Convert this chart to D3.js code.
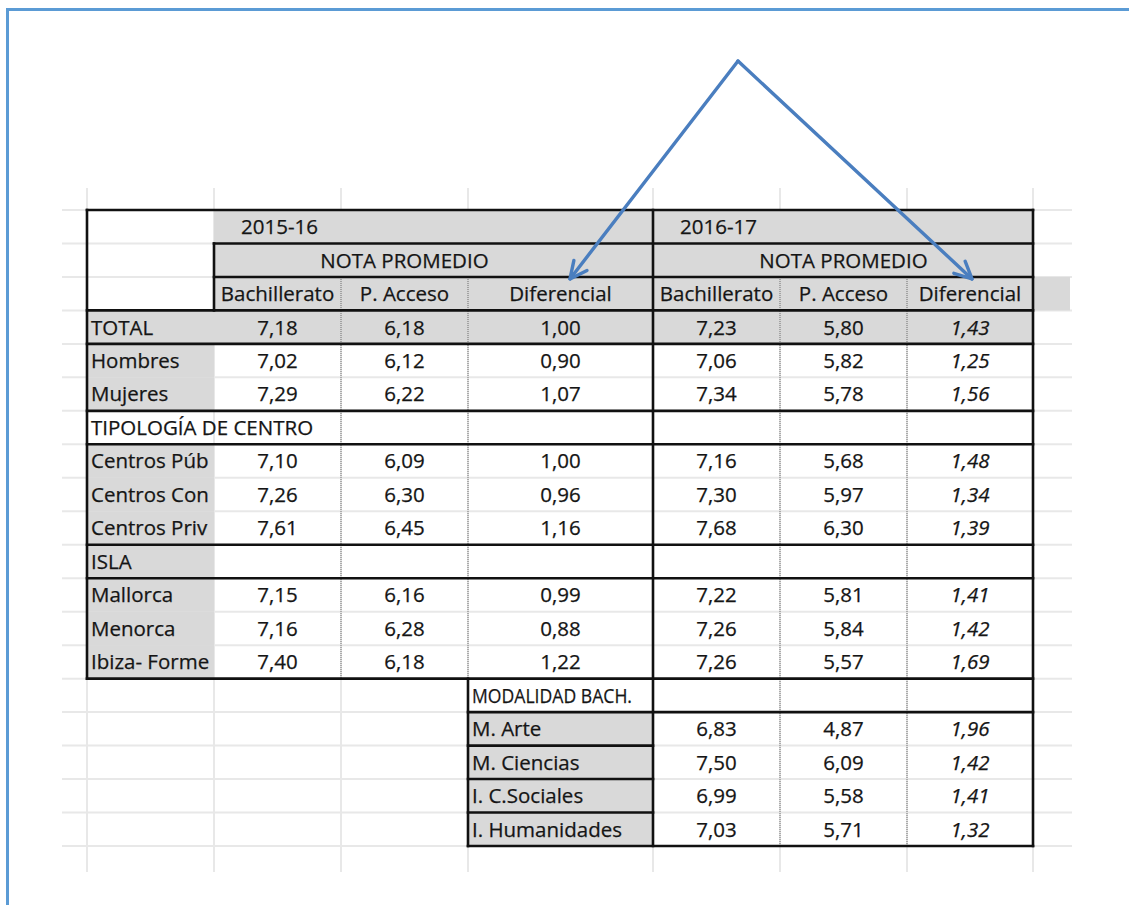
<!DOCTYPE html>
<html>
<head>
<meta charset="utf-8">
<script src="https://cdn.jsdelivr.net/npm/d3@7"></script>
<style>
  body { margin: 0; background: #fff; }
  svg text { font-family: 'Open Sans', Lato, sans-serif; font-size: 20.5px; fill: #151515; stroke: #151515; stroke-width: 0.25px; }
</style>
</head>
<body>
<div id="chart"></div>
<script>
const years = ['2015-16', '2016-17']
const groupLabel = 'NOTA PROMEDIO'
const columnHeaders = ['Bachillerato', 'P. Acceso', 'Diferencial']

// first block: both courses
const rowLabels = ['TOTAL', 'Hombres', 'Mujeres', 'TIPOLOGÍA DE CENTRO', 'Centros Públicos',
  'Centros Concertados', 'Centros Privados', 'ISLA', 'Mallorca', 'Menorca', 'Ibiza- Formentera']
const bach1516 = [7.18, 7.02, 7.29, null, 7.10, 7.26, 7.61, null, 7.15, 7.16, 7.40]
const acceso1516 = [6.18, 6.12, 6.22, null, 6.09, 6.30, 6.45, null, 6.16, 6.28, 6.18]
const dif1516 = [1.00, 0.90, 1.07, null, 1.00, 0.96, 1.16, null, 0.99, 0.88, 1.22]
const bach1617 = [7.23, 7.06, 7.34, null, 7.16, 7.30, 7.68, null, 7.22, 7.26, 7.26]
const acceso1617 = [5.80, 5.82, 5.78, null, 5.68, 5.97, 6.30, null, 5.81, 5.84, 5.57]
const dif1617 = [1.43, 1.25, 1.56, null, 1.48, 1.34, 1.39, null, 1.41, 1.42, 1.69]

// second block: only 2016-17
const modalidadTitle = 'MODALIDAD BACH.'
const modalidades = ['M. Arte', 'M. Ciencias', 'I. C.Sociales', 'I. Humanidades']
const bachMod = [6.83, 7.50, 6.99, 7.03]
const accesoMod = [4.87, 6.09, 5.58, 5.71]
const difMod = [1.96, 1.42, 1.41, 1.32]

const W = 1129, H = 905
const COL_W = [127, 127, 127, 185, 127, 127, 126]
const GRAY = '#d9d9d9'
const INK = '#111'
const BLUE = '#4a7ebf'

const fmt = d3.formatLocale({ decimal: ',', thousands: '.', grouping: [3], currency: ['', '€'] }).format('.2f')

const svg = d3.select('#chart').append('svg').attr('width', W).attr('height', H)

const edges = [0, ...d3.cumsum(COL_W)]
const x = d3.scaleLinear().domain([0, d3.sum(COL_W)]).range([87, 1033])
const nRows = 3 + rowLabels.length + 1 + modalidades.length
const y = d3.scaleBand().domain(d3.range(nRows)).range([210, 846])
const cx = i => x(edges[i])
const cw = i => x(edges[i + 1]) - x(edges[i])
const ry = r => (r >= nRows ? y.range()[1] : y(r))
const rh = y.bandwidth()

const firstRow = 3
const modRow = firstRow + rowLabels.length
const sectionRows = rowLabels.map((d, i) => (bach1516[i] === null ? i + firstRow : null)).filter(d => d !== null)

// faint spreadsheet grid behind
const grid = svg.append('g').attr('stroke', '#e8e8e8').attr('stroke-width', 2)
grid.selectAll('.h').data(d3.range(nRows + 1)).join('line')
  .attr('x1', 62).attr('x2', 1072).attr('y1', d => ry(d)).attr('y2', d => ry(d))
grid.selectAll('.v').data(d3.range(edges.length)).join('line')
  .attr('x1', d => cx(d)).attr('x2', d => cx(d)).attr('y1', 188).attr('y2', 872)

// fills
const fills = [
  [cx(1), ry(0), cx(7), ry(3)],
  [cx(7), ry(2), 1070, ry(3)],
  [cx(0), ry(3), cx(7), ry(4)],
]
d3.range(firstRow + 1, modRow).filter(r => !sectionRows.includes(r) || rowLabels[r - firstRow] === 'ISLA')
  .forEach(r => fills.push([cx(0), ry(r), cx(1), ry(r + 1)]))
modalidades.forEach((d, i) => fills.push([cx(3), ry(modRow + 1 + i), cx(4), ry(modRow + 2 + i)]))

svg.append('g').selectAll('rect').data(fills).join('rect')
  .attr('x', d => d[0]).attr('y', d => d[1])
  .attr('width', d => d[2] - d[0]).attr('height', d => d[3] - d[1])
  .attr('fill', GRAY)

// dotted inner separators
const dotted = [
  [cx(2), ry(2), cx(2), ry(modRow)],
  [cx(3), ry(2), cx(3), ry(modRow)],
  [cx(5), ry(2), cx(5), ry(nRows)],
  [cx(6), ry(2), cx(6), ry(nRows)],
]
svg.append('g').selectAll('line').data(dotted).join('line')
  .attr('x1', d => d[0]).attr('y1', d => d[1]).attr('x2', d => d[2]).attr('y2', d => d[3])
  .attr('stroke', '#666').attr('stroke-width', 1).attr('stroke-dasharray', '1,1')

// thick borders
const thick = [
  [cx(0), ry(0), cx(7), ry(0)],
  [cx(1), ry(1), cx(7), ry(1)],
  [cx(1), ry(2), cx(7), ry(2)],
  [cx(0), ry(3), cx(7), ry(3)],
  [cx(0), ry(4), cx(7), ry(4)],
  ...sectionRows.flatMap(r => [[cx(0), ry(r), cx(7), ry(r)], [cx(0), ry(r + 1), cx(7), ry(r + 1)]]),
  [cx(0), ry(modRow), cx(7), ry(modRow)],
  [cx(3), ry(modRow + 1), cx(7), ry(modRow + 1)],
  ...d3.range(modRow + 2, nRows).map(r => [cx(3), ry(r), cx(4), ry(r)]),
  [cx(3), ry(nRows), cx(7), ry(nRows)],
  [cx(0), ry(0), cx(0), ry(modRow)],
  [cx(1), ry(1), cx(1), ry(3)],
  [cx(4), ry(0), cx(4), ry(nRows)],
  [cx(7), ry(0), cx(7), ry(nRows)],
  [cx(3), ry(modRow), cx(3), ry(nRows)],
]
svg.append('g').selectAll('line').data(thick).join('line')
  .attr('x1', d => d[0]).attr('y1', d => d[1]).attr('x2', d => d[2]).attr('y2', d => d[3])
  .attr('stroke', INK).attr('stroke-width', 2.6).attr('stroke-linecap', 'square')

const texts = svg.append('g')
const mid = r => ry(r) + rh / 2
const put = (tx, r, str, anchor, opts = {}) => {
  const t = texts.append('text')
    .attr('x', tx).attr('y', mid(r)).attr('dy', '0.36em')
    .attr('text-anchor', anchor).text(str)
  if (opts.italic) t.attr('font-style', 'italic')
  // spreadsheet cuts long labels at the cell edge
  if (opts.maxWidth) {
    let s = str
    while (s.length > 1 && t.node().getComputedTextLength() > opts.maxWidth) {
      s = s.slice(0, -1)
      t.text(s)
    }
  }
  // squeeze a label that is wider in this font than in the original one
  if (opts.fitWidth && t.node().getComputedTextLength() > opts.fitWidth) {
    t.attr('textLength', opts.fitWidth).attr('lengthAdjust', 'spacingAndGlyphs')
  }
  return t
}

years.forEach((yr, i) => {
  const c = 1 + i * 3
  put(cx(c) + 27, 0, yr, 'start')
  put(cx(c + 1) + cw(c + 1) / 2, 1, groupLabel, 'middle')
  columnHeaders.forEach((h, j) => put(cx(c + j) + cw(c + j) / 2, 2, h, 'middle'))
})

const series = [bach1516, acceso1516, dif1516, bach1617, acceso1617, dif1617]
rowLabels.forEach((lab, i) => {
  const r = firstRow + i
  const isSection = bach1516[i] === null
  put(cx(0) + 4, r, lab, 'start', { maxWidth: isSection ? null : cw(0) - 5 })
  series.forEach((s, j) => {
    if (s[i] === null) return
    put(cx(j + 1) + cw(j + 1) / 2, r, fmt(s[i]), 'middle', { italic: j === 5 })
  })
})

put(cx(3) + 4, modRow, modalidadTitle, 'start', { fitWidth: cw(3) - 25 })
modalidades.forEach((lab, i) => {
  const r = modRow + 1 + i
  put(cx(3) + 4, r, lab, 'start')
  ;[bachMod, accesoMod, difMod].forEach((s, j) => {
    put(cx(j + 4) + cw(j + 4) / 2, r, fmt(s[i]), 'middle', { italic: j === 2 })
  })
})

// annotation arrows pointing at both "Diferencial" headers
const apex = [738, 61]
const tips = [[cx(3) + 102, ry(2) + 2], [cx(6) + 65, ry(2) + 2]]
const arrows = svg.append('g').attr('stroke', BLUE).attr('stroke-width', 3.4)
  .attr('fill', 'none').attr('stroke-linecap', 'round').attr('stroke-linejoin', 'round')
tips.forEach(tp => {
  arrows.append('line').attr('x1', apex[0]).attr('y1', apex[1]).attr('x2', tp[0]).attr('y2', tp[1])
  const ang = Math.atan2(tp[1] - apex[1], tp[0] - apex[0])
  const len = 19, spread = 0.45
  const p1 = [tp[0] - len * Math.cos(ang - spread), tp[1] - len * Math.sin(ang - spread)]
  const p2 = [tp[0] - len * Math.cos(ang + spread), tp[1] - len * Math.sin(ang + spread)]
  arrows.append('path').attr('d', d3.line()([p1, tp, p2]))
})

// blue frame of the screenshot
svg.append('rect').attr('x', 7.5).attr('y', 9.5).attr('width', W + 20).attr('height', H + 20)
  .attr('fill', 'none').attr('stroke', '#5b9bd5').attr('stroke-width', 3)
</script>
</body>
</html>
